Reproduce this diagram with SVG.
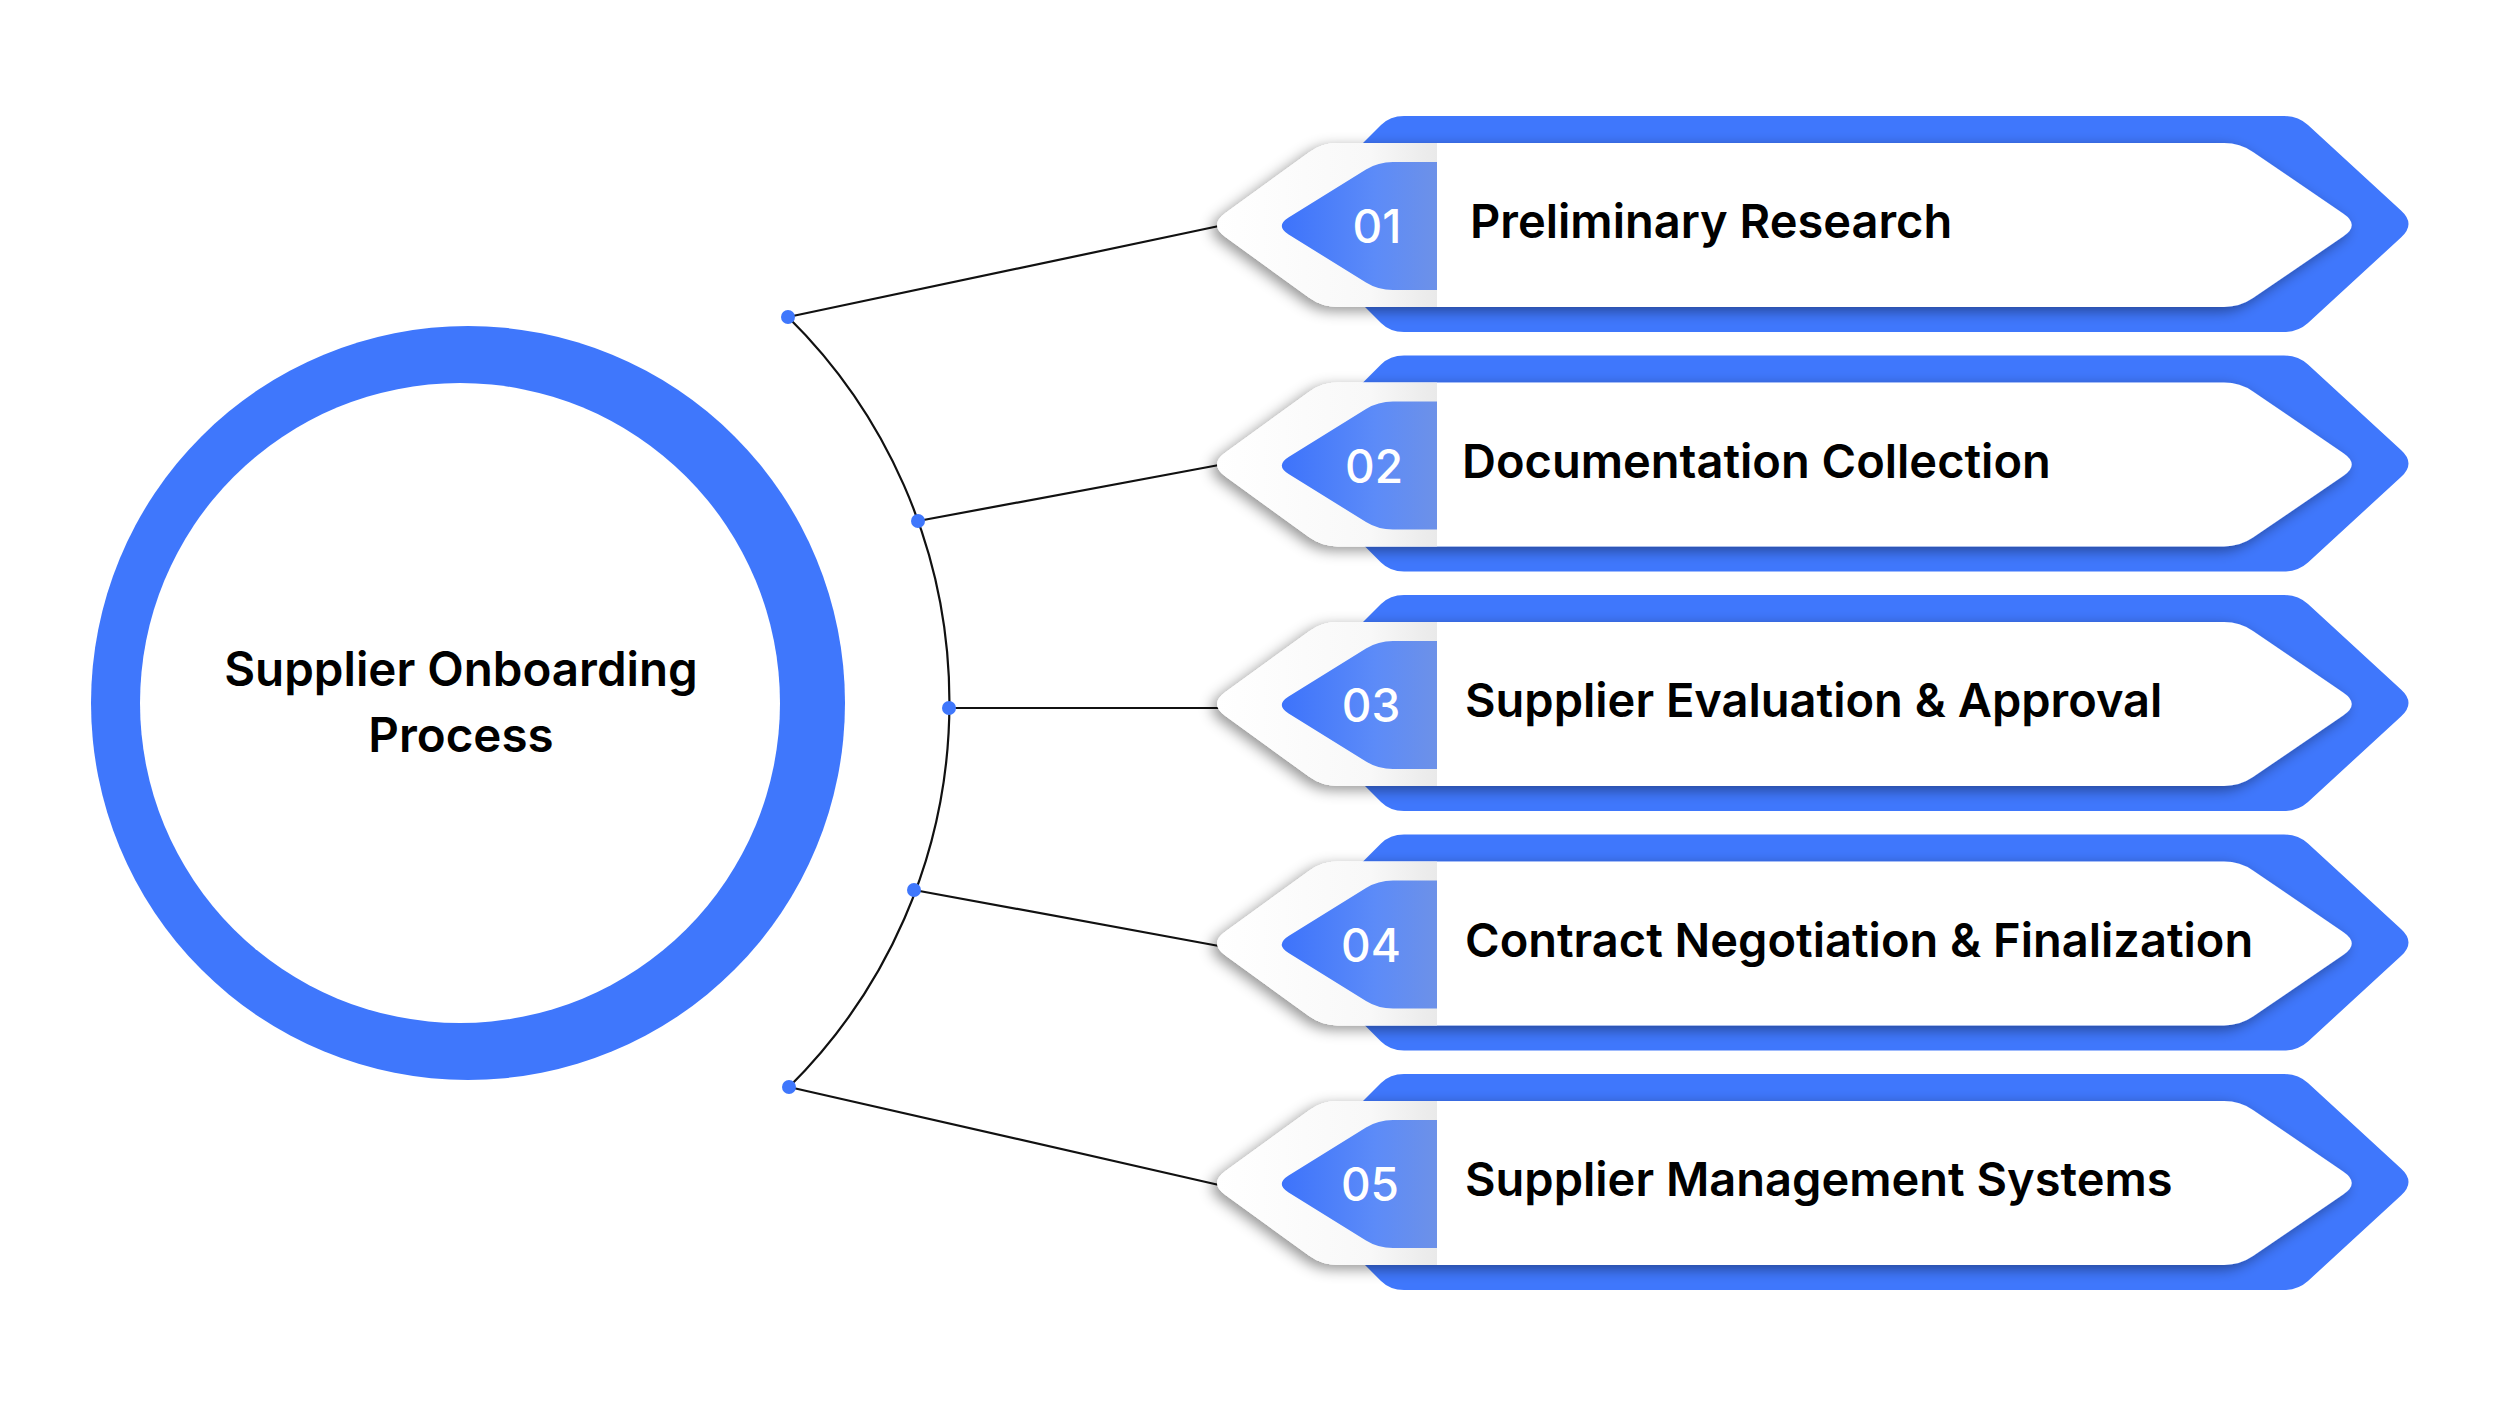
<svg xmlns="http://www.w3.org/2000/svg" xmlns:xlink="http://www.w3.org/1999/xlink" width="2500" height="1406" viewBox="0 0 2500 1406">
  <style>
    .blue { fill: #3F77FC; }
    .label { font-family: Inter, "Noto Sans", "Liberation Sans", sans-serif; font-weight: 600; font-size: 47px; fill: #000; }
    .num { font-family: Inter, "Noto Sans", "Liberation Sans", sans-serif; font-weight: 500; font-size: 46px; fill: #fff; text-anchor: middle; }
    .title { font-family: Inter, "Noto Sans", "Liberation Sans", sans-serif; font-weight: 600; font-size: 47.5px; fill: #000; text-anchor: middle; }
    .conn { fill: none; stroke: #111; stroke-width: 2.2; }
    .dot { fill: #3F77FC; }
  </style>
  <defs>
    <filter id="sh" x="-5%" y="-25%" width="110%" height="150%">
      <feGaussianBlur in="SourceAlpha" stdDeviation="7"/>
      <feOffset dx="-5" dy="4" result="b"/>
      <feFlood flood-color="#000" flood-opacity="0.42"/>
      <feComposite in2="b" operator="in"/>
      <feMerge><feMergeNode/><feMergeNode in="SourceGraphic"/></feMerge>
    </filter>
    <linearGradient id="numGrad" x1="0" y1="0" x2="1" y2="0">
      <stop offset="0" stop-color="#3D73FB"/>
      <stop offset="0.6" stop-color="#5C8BF8"/>
      <stop offset="1" stop-color="#6D91E8"/>
    </linearGradient>
    <linearGradient id="leftGrad" x1="0" y1="0" x2="1" y2="0">
      <stop offset="0" stop-color="#ffffff"/>
      <stop offset="0.7" stop-color="#f8f8f8"/>
      <stop offset="1" stop-color="#e9e9e9"/>
    </linearGradient>
    <path id="backShape" class="blue" d="M 1404 116 L 2284 116 Q 2298 116 2308 125 L 2401 210.5 Q 2416 224 2401 237.5 L 2308 323 Q 2298 332 2284 332 L 1404 332 Q 1390 332 1381 323 L 1290 232 Q 1282 224 1290 216 L 1381 125 Q 1390 116 1404 116 Z"/>
    <path id="whiteShape" fill="#ffffff" d="M 1225.2 213.3 L 1309 152.4 Q 1322 143 1338 143 L 2224 143 Q 2240 143 2253 151.9 L 2343.5 213.7 Q 2360 225 2343.5 236.3 L 2253 298.1 Q 2240 307 2224 307 L 1338 307 Q 1322 307 1309 297.6 L 1225.2 236.7 Q 1209 225 1225.2 213.3 Z"/>
    <path id="leftPiece" fill="url(#leftGrad)" d="M 1225.2 213.3 L 1309 152.4 Q 1322 143 1338 143 L 1437 143 L 1437 307 L 1338 307 Q 1322 307 1309 297.6 L 1225.2 236.7 Q 1209 225 1225.2 213.3 Z"/>
    <path id="numShape" fill="url(#numGrad)" d="M 1437 162 L 1393 162 Q 1378 162 1366 169.5 L 1288.6 217.5 Q 1275 226 1288.6 234.5 L 1366 282.5 Q 1378 290 1393 290 L 1437 290 Z"/>
  </defs>

  <rect x="0" y="0" width="2500" height="1406" fill="#ffffff"/>

  <g id="connectors">
    <path class="conn" d="M 788 317 A 541 541 0 0 1 789 1087"/>
    <line class="conn" x1="788" y1="317" x2="1219" y2="226"/>
    <line class="conn" x1="918" y1="521" x2="1219" y2="465"/>
    <line class="conn" x1="949" y1="708" x2="1219" y2="708"/>
    <line class="conn" x1="914" y1="890" x2="1219" y2="946"/>
    <line class="conn" x1="789" y1="1087" x2="1219" y2="1185"/>
    <circle class="dot" cx="788" cy="317" r="7"/>
    <circle class="dot" cx="918" cy="521" r="7"/>
    <circle class="dot" cx="949" cy="708" r="7"/>
    <circle class="dot" cx="914" cy="890" r="7"/>
    <circle class="dot" cx="789" cy="1087" r="7"/>
  </g>

  <g id="center">
    <circle cx="468" cy="703" r="377" class="blue"/>
    <circle cx="460" cy="703" r="320" fill="#ffffff"/>
    <text class="title" x="461" y="686">Supplier Onboarding</text>
    <text class="title" x="461" y="752">Process</text>
  </g>

  <g id="step1">
    <use xlink:href="#backShape"/>
    <g filter="url(#sh)"><use xlink:href="#whiteShape"/></g>
    <use xlink:href="#leftPiece"/>
    <use xlink:href="#numShape"/>
    <text class="num" x="1377" y="243">01</text>
    <text class="label" x="1470" y="238">Preliminary Research</text>
  </g>

  <g id="step2" transform="translate(0,239.5)">
    <use xlink:href="#backShape"/>
    <g filter="url(#sh)"><use xlink:href="#whiteShape"/></g>
    <use xlink:href="#leftPiece"/>
    <use xlink:href="#numShape"/>
    <text class="num" x="1374" y="243">02</text>
    <text class="label" x="1462" y="238">Documentation Collection</text>
  </g>

  <g id="step3" transform="translate(0,479)">
    <use xlink:href="#backShape"/>
    <g filter="url(#sh)"><use xlink:href="#whiteShape"/></g>
    <use xlink:href="#leftPiece"/>
    <use xlink:href="#numShape"/>
    <text class="num" x="1371" y="243">03</text>
    <text class="label" x="1465" y="238">Supplier Evaluation &amp; Approval</text>
  </g>

  <g id="step4" transform="translate(0,718.5)">
    <use xlink:href="#backShape"/>
    <g filter="url(#sh)"><use xlink:href="#whiteShape"/></g>
    <use xlink:href="#leftPiece"/>
    <use xlink:href="#numShape"/>
    <text class="num" x="1371" y="243">04</text>
    <text class="label" x="1465" y="238">Contract Negotiation &amp; Finalization</text>
  </g>

  <g id="step5" transform="translate(0,958)">
    <use xlink:href="#backShape"/>
    <g filter="url(#sh)"><use xlink:href="#whiteShape"/></g>
    <use xlink:href="#leftPiece"/>
    <use xlink:href="#numShape"/>
    <text class="num" x="1370" y="243">05</text>
    <text class="label" x="1465" y="238">Supplier Management Systems</text>
  </g>
</svg>
